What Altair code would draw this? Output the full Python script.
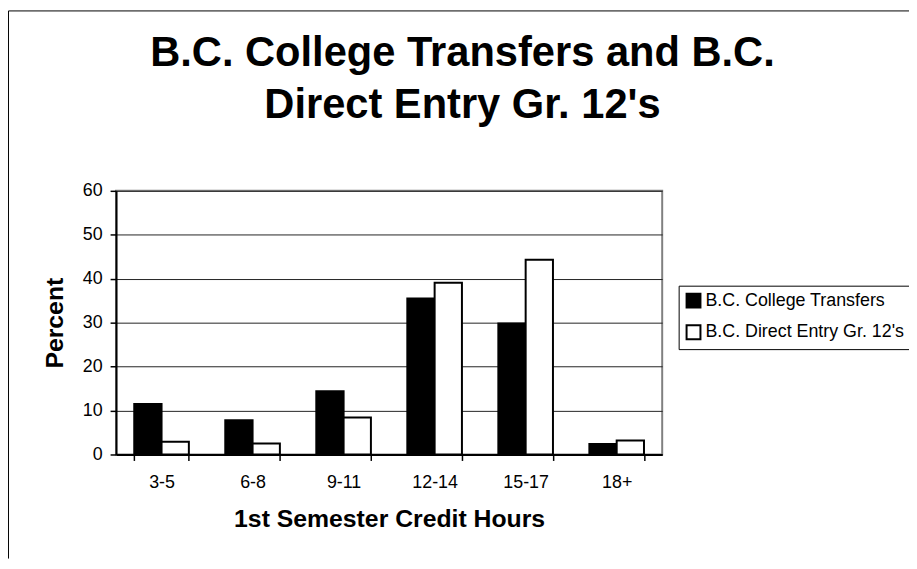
import altair as alt
import pandas as pd

categories = ["3-5", "6-8", "9-11", "12-14", "15-17", "18+"]
series_names = ["B.C. College Transfers", "B.C. Direct Entry Gr. 12's"]
college_transfers = [11.5, 7.8, 14.4, 35.5, 29.8, 2.4]
direct_entry = [2.9, 2.5, 8.4, 39.1, 44.3, 3.2]
y_ticks = [0, 10, 20, 30, 40, 50, 60]
title_lines = ["B.C. College Transfers and B.C.", "Direct Entry Gr. 12's"]
x_title = "1st Semester Credit Hours"
y_title = "Percent"

rows = []
for i, c in enumerate(categories):
    rows.append({"hours": c, "series": series_names[0], "percent": college_transfers[i]})
    rows.append({"hours": c, "series": series_names[1], "percent": direct_entry[i]})
df = pd.DataFrame(rows)

FONT = "Liberation Sans"
W, H = 551, 266
PAD = {"left": 109, "top": 182, "right": 249, "bottom": 105}

bars = alt.Chart(df).mark_bar(stroke="black", strokeWidth=2).encode(
    x=alt.X(
        "hours:N",
        sort=categories,
        scale=alt.Scale(paddingInner=0.4, paddingOuter=0.2),
        axis=alt.Axis(
            title=x_title,
            titleFont=FONT, titleFontSize=25, titleFontWeight="bold", titleColor="black",
            titleX=W / 2, titleY=65, titleAlign="center", titleBaseline="middle",
            labelAngle=0, labelFont=FONT, labelFontSize=18, labelColor="black",
            labelPadding=13, tickSize=6, tickColor="black", tickWidth=1.5,
            tickBand="extent", domainColor="black", domainWidth=2, grid=False,
        ),
    ),
    xOffset=alt.XOffset(
        "series:N", sort=series_names,
        scale=alt.Scale(paddingInner=0, paddingOuter=0),
    ),
    y=alt.Y(
        "percent:Q",
        scale=alt.Scale(domain=[0, 60], nice=False),
        axis=alt.Axis(
            values=y_ticks, title=y_title,
            titleFont=FONT, titleFontSize=25, titleFontWeight="bold", titleColor="black",
            titleAngle=270, titleX=-62, titleY=H / 2, titleAlign="center", titleBaseline="middle",
            labelFont=FONT, labelFontSize=18, labelColor="black", labelPadding=8,
            tickSize=6, tickColor="black", tickWidth=1.5,
            domainColor="black", domainWidth=2,
            grid=True, gridColor="#222222", gridWidth=1,
        ),
    ),
    fill=alt.Fill(
        "series:N", sort=series_names,
        scale=alt.Scale(domain=series_names, range=["black", "white"]),
        legend=alt.Legend(
            title=None, orient="none", legendX=567.6, legendY=95.7, direction="vertical",
            symbolType="square", symbolSize=196, symbolStrokeColor="black", symbolStrokeWidth=2,
            symbolOpacity=1,
            labelFont=FONT, labelFontSize=18, labelColor="black", labelOffset=3, labelLimit=0,
            padding=6, rowPadding=10, strokeColor="black", fillColor="white",
        ),
    ),
)

title_text = alt.Chart(alt.Data(values=[{"k": 1}])).mark_text(
    font=FONT, fontSize=42, fontWeight="bold", color="black",
    align="center", baseline="alphabetic", lineHeight=53,
).encode(
    text=alt.value(title_lines), x=alt.value(349.5), y=alt.value(-126)
)

frame_left = alt.Chart(alt.Data(values=[{"k": 1}])).mark_rule(color="black", strokeWidth=1).encode(
    x=alt.value(-108.5), y=alt.value(-181.5), y2=alt.value(H + PAD["bottom"])
)
frame_top = alt.Chart(alt.Data(values=[{"k": 1}])).mark_rule(color="black", strokeWidth=1).encode(
    x=alt.value(-108.5), x2=alt.value(W + PAD["right"]), y=alt.value(-181.5)
)

chart = alt.layer(bars, title_text, frame_left, frame_top).properties(
    width=W, height=H,
    padding=PAD,
    autosize=alt.AutoSizeParams(type="none"),
    background="white",
).configure_view(stroke="#808080", strokeWidth=2)

chart.save("out.html", embed_options={"renderer": "svg", "actions": False})
